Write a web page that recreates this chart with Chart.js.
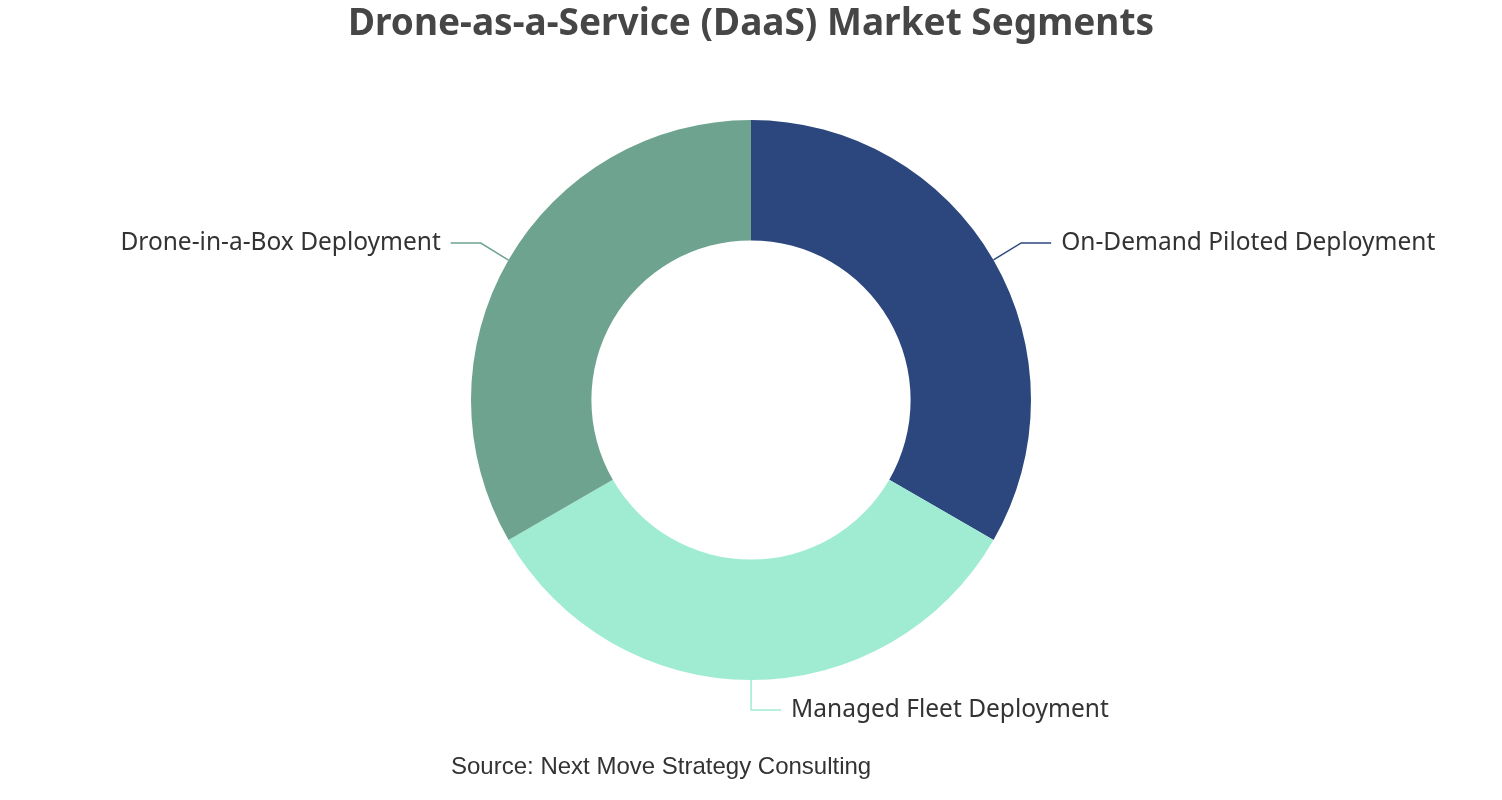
<!DOCTYPE html>
<html>
<head>
<meta charset="utf-8">
<script src="https://cdn.jsdelivr.net/npm/chart.js@4"></script>
<style>
  html, body { margin: 0; padding: 0; background: #fff; }
  #wrap { width: 1502px; height: 800px; }
</style>
</head>
<body>
<div id="wrap"><canvas id="c" width="1502" height="800"></canvas></div>
<script>
const segments = ["On-Demand Piloted Deployment", "Managed Fleet Deployment", "Drone-in-a-Box Deployment"];
const shares = [33.33, 33.33, 33.34];
const colors = ["#2C477E", "#A0ECD2", "#6EA48F"];
const chartTitle = "Drone-as-a-Service (DaaS) Market Segments";
const sourceNote = "Source: Next Move Strategy Consulting";

// labels with bent leader lines outside each slice
const outsideLabels = {
  id: "outsideLabels",
  afterDatasetsDraw(chart) {
    const ctx = chart.ctx;
    const meta = chart.getDatasetMeta(0);
    ctx.save();
    ctx.font = "24.5px 'Noto Sans', sans-serif";
    ctx.textBaseline = "middle";
    meta.data.forEach((arc, i) => {
      const p = arc.getProps(["x", "y", "startAngle", "endAngle", "outerRadius"], true);
      const mid = (p.startAngle + p.endAngle) / 2;
      const cos = Math.cos(mid), sin = Math.sin(mid);
      const x0 = p.x + cos * p.outerRadius;
      const y0 = p.y + sin * p.outerRadius;
      let x1, y1;
      if (Math.abs(cos) < 0.05) {
        x1 = x0; y1 = y0 + Math.sign(sin) * 30;
      } else {
        x1 = x0 + cos * 32; y1 = y0 + sin * 34;
      }
      const dir = cos >= -0.05 ? 1 : -1;
      const x2 = x1 + dir * 30;
      ctx.strokeStyle = colors[i];
      ctx.lineWidth = 1.5;
      ctx.beginPath();
      ctx.moveTo(x0, y0);
      ctx.lineTo(x1, y1);
      ctx.lineTo(x2, y1);
      ctx.stroke();
      ctx.fillStyle = "#333";
      ctx.textAlign = dir > 0 ? "left" : "right";
      ctx.fillText(segments[i], x2 + dir * 10, y1);
    });

    ctx.textAlign = "center";
    ctx.fillStyle = "#464646";
    ctx.font = "bold 37px 'Noto Sans', sans-serif";
    ctx.fillText(chartTitle, 751, 24);

    ctx.fillStyle = "#333";
    ctx.font = "24px 'Liberation Sans', Arial, sans-serif";
    ctx.textAlign = "left";
    ctx.fillText(sourceNote, 451, 767);
    ctx.restore();
  }
};

new Chart(document.getElementById("c"), {
  type: "doughnut",
  data: {
    labels: segments,
    datasets: [{
      data: shares,
      backgroundColor: colors,
      borderWidth: 0,
      hoverOffset: 0
    }]
  },
  options: {
    responsive: false,
    animation: false,
    cutout: "57%",
    layout: { padding: { top: 120, bottom: 120 } },
    plugins: {
      legend: { display: false },
      tooltip: { enabled: false }
    }
  },
  plugins: [outsideLabels]
});
</script>
</body>
</html>
